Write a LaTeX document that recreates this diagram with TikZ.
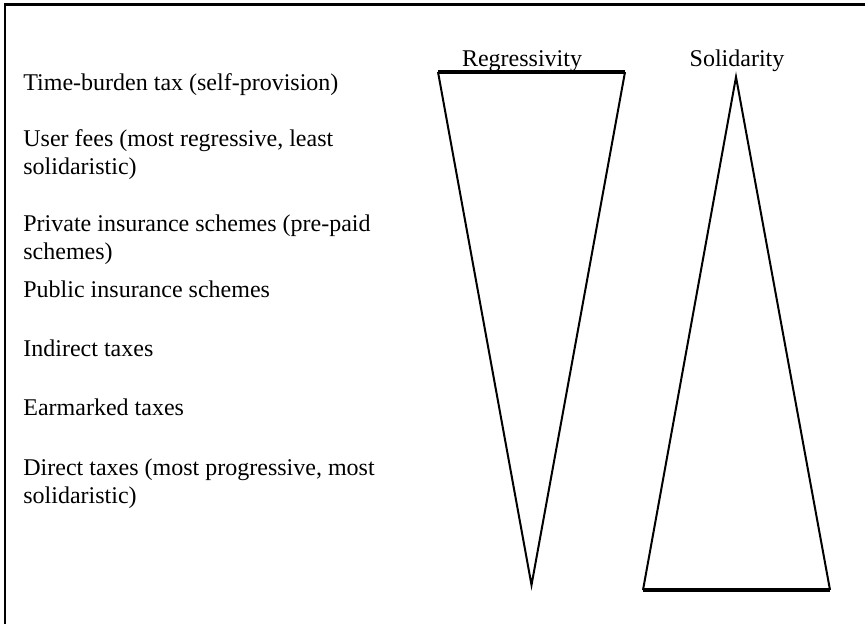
\documentclass[tikz,border=0pt]{standalone}
\usepackage{fontspec}
\setmainfont{Liberation Serif}
\usetikzlibrary{positioning}

\begin{document}
\begin{tikzpicture}[x=0.5pt,y=-0.5pt,
  item/.style={anchor=base west,align=left,inner sep=0pt,font=\fontsize{12}{14}\selectfont},
  head/.style={anchor=base,inner sep=0pt,font=\fontsize{12}{14}\selectfont},
  side/.style={line width=1pt,line join=miter},
  rim/.style={line width=1.6pt}]
  \useasboundingbox (0,0) rectangle (865,624);
  % frame
  \draw[line width=1.1pt] (5,624) -- (5,4.5) -- (865,4.5);
  % headings
  \node[head] (regr) at (522,66.5) {Regressivity};
  \node[head] (soli) at (737,66.5) {Solidarity};
  % financing sources (base = last line)
  \node[item] (time)  at (23,91)  {Time-burden tax (self-provision)};
  \node[item] (user)  at (23,175) {User fees (most regressive, least\\solidaristic)};
  \node[item] (priv)  at (23,260) {Private insurance schemes (pre-paid\\schemes)};
  \node[item] (publ)  at (23,298) {Public insurance schemes};
  \node[item] (indir) at (23,357) {Indirect taxes};
  \node[item] (earm)  at (23,415) {Earmarked taxes};
  \node[item] (dir)   at (23,503) {Direct taxes (most progressive, most\\solidaristic)};
  % regressivity wedge
  \coordinate (rtl) at (438,72);
  \coordinate (rtr) at (625,72);
  \coordinate (rtip) at (531.5,585);
  \draw[side] (rtl) -- (rtip) -- (rtr);
  \draw[rim] (rtl) -- (rtr);
  % solidarity wedge
  \coordinate (stip) at (736,77);
  \coordinate (sbl) at (643,590);
  \coordinate (sbr) at (830,590);
  \draw[side] (sbl) -- (stip) -- (sbr);
  \draw[rim] (sbl) -- (sbr);
\end{tikzpicture}
\end{document}
